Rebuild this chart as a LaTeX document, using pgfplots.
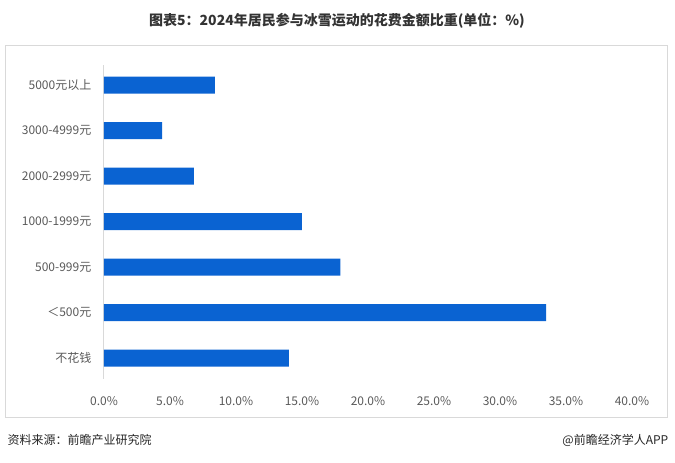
\documentclass[border=0pt]{standalone}
\usepackage{pgfplots}
\pgfplotsset{compat=1.18}
\usepackage{fontspec}
\setmainfont{Noto Sans CJK SC}
\definecolor{barblue}{HTML}{0A63D2}
\definecolor{ticktxt}{HTML}{595959}
\definecolor{framegray}{HTML}{D9D9D9}
\begin{document}
\begin{tikzpicture}[x=0.75pt,y=0.75pt]
\path (0,0) rectangle (675,463);
\draw[framegray,line width=0.75pt] (5,417) rectangle (667,45);
\node[font=\bfseries\fontsize{10.5}{12}\selectfont,text=black!80] at (337,442) {图表5：2024年居民参与冰雪运动的花费金额比重(单位：\%)};
\node[anchor=west,font=\fontsize{9}{11}\selectfont,text=black!85] at (3,23) {资料来源：前瞻产业研究院};
\node[anchor=east,font=\fontsize{9}{11}\selectfont,text=black!85] at (673,23) {@前瞻经济学人APP};
\coordinate (A) at (104,82);
\begin{axis}[
  at={(A)}, anchor=south west,
  scale only axis, width=396pt, height=239pt,
  xbar, bar width=12.75pt,
  xmin=0, xmax=40, ymin=-0.5, ymax=6.5,
  xtick={0,5,...,40},
  xticklabel={\pgfmathprintnumber[fixed,fixed zerofill,precision=1]{\tick}\%},
  ytick={0,...,6},
  yticklabels={不花钱,＜500元,500-999元,1000-1999元,2000-2999元,3000-4999元,5000元以上},
  /pgf/number format/assume math mode=true,
  ticklabel style={font=\fontsize{9}{11}\selectfont, text=ticktxt},
  major tick length=0pt,
  axis line style={draw=none},
  axis x line*=bottom, axis y line*=left,
  xticklabel style={yshift=-8pt},
  yticklabel style={xshift=-6pt},
  clip=false,
]
\draw[framegray,line width=0.75pt] (axis cs:0,-0.45) -- (axis cs:0,6.45);
\addplot[fill=barblue, draw=none] coordinates {
(14.0,0) (33.5,1) (17.9,2) (15.0,3) (6.8,4) (4.4,5) (8.4,6)};
\end{axis}
\end{tikzpicture}
\end{document}
